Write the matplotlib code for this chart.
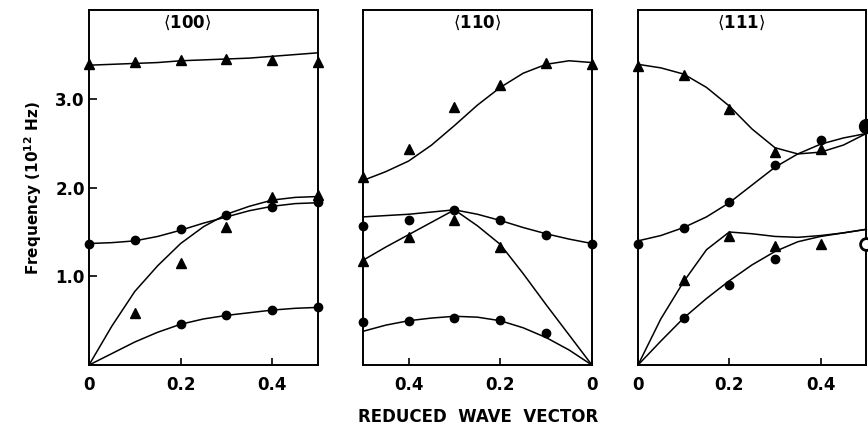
import numpy as np
import matplotlib
matplotlib.use("Agg")
import matplotlib.pyplot as plt

# reduced wave vector grids
q_pts = [0.0, 0.1, 0.2, 0.3, 0.4, 0.5]
q_fine = [0.0, 0.05, 0.1, 0.15, 0.2, 0.25, 0.3, 0.35, 0.4, 0.45, 0.5]

# ---- <100> measured points (10^12 Hz)
p100_opt_tri_q = [0.0, 0.1, 0.2, 0.3, 0.4, 0.5]
p100_opt_tri = [3.39, 3.42, 3.44, 3.45, 3.44, 3.42]
p100_mid_dot_q = [0.0, 0.1, 0.2, 0.3, 0.4, 0.5]
p100_mid_dot = [1.37, 1.41, 1.53, 1.69, 1.78, 1.84]
p100_la_tri_q = [0.1, 0.2, 0.3, 0.4, 0.5]
p100_la_tri = [0.59, 1.15, 1.56, 1.89, 1.92]
p100_ta_dot_q = [0.2, 0.3, 0.4, 0.5]
p100_ta_dot = [0.46, 0.56, 0.62, 0.65]
# <100> curves
c100_opt = [3.38, 3.39, 3.40, 3.41, 3.43, 3.44, 3.45, 3.46, 3.48, 3.50, 3.52]
c100_mid = [1.37, 1.38, 1.40, 1.45, 1.52, 1.60, 1.67, 1.74, 1.79, 1.82, 1.83]
c100_la = [0.0, 0.44, 0.83, 1.12, 1.37, 1.56, 1.70, 1.79, 1.86, 1.89, 1.90]
c100_ta = [0.0, 0.13, 0.26, 0.37, 0.46, 0.52, 0.56, 0.59, 0.62, 0.64, 0.65]

# ---- <110> measured points
p110_opt_tri_q = [0.5, 0.4, 0.3, 0.2, 0.1, 0.0]
p110_opt_tri = [2.12, 2.43, 2.91, 3.16, 3.41, 3.39]
p110_mid_dot_q = [0.5, 0.4, 0.3, 0.2, 0.1, 0.0]
p110_mid_dot = [1.57, 1.63, 1.75, 1.63, 1.47, 1.37]
p110_tri_q = [0.5, 0.4, 0.3, 0.2]
p110_tri = [1.17, 1.44, 1.64, 1.33]
p110_low_dot_q = [0.5, 0.4, 0.3, 0.2, 0.1]
p110_low_dot = [0.49, 0.50, 0.53, 0.51, 0.36]
# <110> curves
c110_opt = [3.41, 3.43, 3.39, 3.29, 3.13, 2.93, 2.70, 2.48, 2.30, 2.18, 2.08]
c110_mid_q = [0.0, 0.05, 0.1, 0.15, 0.2, 0.25, 0.3, 0.4, 0.5]
c110_mid = [1.37, 1.42, 1.48, 1.55, 1.63, 1.70, 1.75, 1.70, 1.67]
c110_tri = [0.0, 0.34, 0.68, 1.03, 1.36, 1.57, 1.75, 1.61, 1.47, 1.33, 1.18]
c110_low = [0.0, 0.17, 0.31, 0.42, 0.50, 0.54, 0.55, 0.53, 0.50, 0.45, 0.38]

# ---- <111> measured points
p111_opt_tri_q = [0.0, 0.1, 0.2, 0.3, 0.4]
p111_opt_tri = [3.37, 3.27, 2.89, 2.40, 2.44]
p111_mid_dot_q = [0.0, 0.1, 0.2, 0.3, 0.4]
p111_mid_dot = [1.37, 1.54, 1.84, 2.26, 2.54]
p111_ta_tri_q = [0.1, 0.2, 0.3, 0.4]
p111_ta_tri = [0.96, 1.46, 1.34, 1.36]
p111_la_dot_q = [0.1, 0.2, 0.3]
p111_la_dot = [0.53, 0.90, 1.20]
p111_edge_big = 2.69
p111_edge_ring = 1.36
# <111> curves
c111_opt = [3.39, 3.35, 3.28, 3.13, 2.92, 2.66, 2.45, 2.38, 2.40, 2.48, 2.61]
c111_mid = [1.40, 1.46, 1.55, 1.67, 1.83, 2.03, 2.23, 2.38, 2.49, 2.56, 2.61]
c111_ta = [0.0, 0.52, 0.94, 1.30, 1.50, 1.48, 1.45, 1.44, 1.46, 1.49, 1.53]
c111_la = [0.0, 0.27, 0.53, 0.75, 0.95, 1.13, 1.28, 1.39, 1.45, 1.49, 1.53]

LW = 1.1
tick_font = dict(fontsize=12, fontweight="bold")

fig = plt.figure(figsize=(8.68, 4.25), dpi=100)
ax1 = fig.add_axes([0.1025, 0.141, 0.264, 0.835])
ax2 = fig.add_axes([0.418, 0.141, 0.264, 0.835])
ax3 = fig.add_axes([0.735, 0.141, 0.263, 0.835])


def dots(ax, q, f, ms=6.0):
    ax.plot(q, f, "o", color="black", ms=ms, clip_on=False, zorder=5)


def tris(ax, q, f):
    ax.plot(q, f, "^", color="black", ms=6.5, clip_on=False, zorder=5)


def curve(ax, q, f):
    ax.plot(q, f, "-", color="black", lw=LW, clip_on=False, zorder=3)


# <100>
curve(ax1, q_fine, c100_opt)
curve(ax1, q_fine, c100_mid)
curve(ax1, q_fine, c100_la)
curve(ax1, q_fine, c100_ta)
tris(ax1, p100_opt_tri_q, p100_opt_tri)
dots(ax1, p100_mid_dot_q, p100_mid_dot)
tris(ax1, p100_la_tri_q, p100_la_tri)
dots(ax1, p100_ta_dot_q, p100_ta_dot)

# <110>
curve(ax2, q_fine, c110_opt)
curve(ax2, c110_mid_q, c110_mid)
curve(ax2, q_fine, c110_tri)
curve(ax2, q_fine, c110_low)
tris(ax2, p110_opt_tri_q, p110_opt_tri)
dots(ax2, p110_mid_dot_q, p110_mid_dot)
tris(ax2, p110_tri_q, p110_tri)
dots(ax2, p110_low_dot_q, p110_low_dot)

# <111>
curve(ax3, q_fine, c111_opt)
curve(ax3, q_fine, c111_mid)
curve(ax3, q_fine, c111_ta)
curve(ax3, q_fine, c111_la)
tris(ax3, p111_opt_tri_q, p111_opt_tri)
dots(ax3, p111_mid_dot_q, p111_mid_dot)
tris(ax3, p111_ta_tri_q, p111_ta_tri)
dots(ax3, p111_la_dot_q, p111_la_dot)
dots(ax3, [0.5], [p111_edge_big], ms=10)
ax3.plot([0.5], [p111_edge_ring], "o", mfc="white", mec="black", mew=2.0,
         ms=8.5, clip_on=False, zorder=5)

titles = [r"$\langle$100$\rangle$", r"$\langle$110$\rangle$", r"$\langle$111$\rangle$"]
title_x = [0.215, 0.25, 0.225]
for ax, t, tx in zip([ax1, ax2, ax3], titles, title_x):
    ax.set_xlim(0, 0.5)
    ax.set_ylim(0, 4.0)
    ax.set_xticks([0.0, 0.2, 0.4])
    ax.set_xticklabels(["0", "0.2", "0.4"], **tick_font)
    ax.tick_params(axis="x", direction="in", length=5, width=1.2, pad=8)
    ax.tick_params(axis="y", direction="in", length=6, width=1.2, pad=3)
    for sp in ax.spines.values():
        sp.set_linewidth(1.4)
    ax.text(tx, 3.86, t, ha="center", va="center", fontsize=12, fontweight="bold")

ax2.set_xlim(0.5, 0)
ax1.set_yticks([1.0, 2.0, 3.0])
ax1.set_yticklabels(["1.0", "2.0", "3.0"], **tick_font)
ax2.set_yticks([])
ax3.set_yticks([])

ax1.set_ylabel(r"Frequency (10$^{\mathbf{12}}$ Hz)", fontsize=11, fontweight="bold",
               labelpad=8)
fig.text(0.551, 0.02, "REDUCED  WAVE  VECTOR", ha="center", va="center",
         fontsize=12, fontweight="bold")

fig.savefig("out.png", dpi=100)
